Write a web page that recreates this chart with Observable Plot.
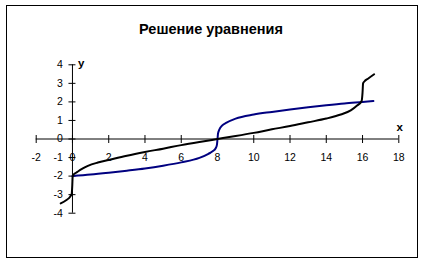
<!DOCTYPE html>
<html>
<head>
<meta charset="utf-8">
<script src="https://cdn.jsdelivr.net/npm/d3@7"></script>
<script src="https://cdn.jsdelivr.net/npm/@observablehq/plot@0.6"></script>
<style>
  html, body { margin: 0; padding: 0; background: #fff; }
</style>
</head>
<body>
<div id="chart"></div>
<script>
const title = "Решение уравнения";
const xTicks = [-2, 0, 2, 4, 6, 8, 10, 12, 14, 16, 18];
const yTicks = [-4, -3, -2, -1, 0, 1, 2, 3, 4];

// Black curve
const blackX = [-0.65, -0.35, -0.12, -0.04, -0.01, 0.01, 0.05, 0.15, 0.3, 0.55, 0.85, 1.4, 2, 3, 4, 5, 6, 7, 8, 9, 10, 11, 12, 13, 14, 14.8, 15.35, 15.7, 15.95, 16.0, 16.03, 16.1, 16.3, 16.64];
const blackY = [-3.47, -3.3, -3.1, -2.95, -2.5, -2.05, -1.93, -1.85, -1.75, -1.6, -1.45, -1.27, -1.13, -0.9, -0.7, -0.52, -0.33, -0.16, 0, 0.16, 0.33, 0.52, 0.7, 0.9, 1.1, 1.32, 1.54, 1.8, 2.05, 2.5, 3.0, 3.1, 3.25, 3.49];

// Blue curve
const blueX = [0, 1, 2, 3, 4, 5, 6, 7, 7.5, 7.75, 7.9, 7.97, 8, 8.03, 8.1, 8.25, 8.5, 9, 10, 11, 12, 13, 14, 15, 16, 16.6];
const blueY = [-2.0, -1.92, -1.82, -1.71, -1.59, -1.44, -1.26, -1.02, -0.8, -0.65, -0.5, -0.3, 0, 0.3, 0.5, 0.72, 0.88, 1.1, 1.32, 1.46, 1.59, 1.71, 1.82, 1.92, 2.0, 2.05];

const black = blackX.map((x, i) => ({x, y: blackY[i]}));
const blue = blueX.map((x, i) => ({x, y: blueY[i]}));

const vTick = {draw(ctx) { ctx.moveTo(0, -4); ctx.lineTo(0, 4); }};
const hTick = {draw(ctx) { ctx.moveTo(-4, 0); ctx.lineTo(3, 0); }};

const font = "Arial, 'Liberation Sans', sans-serif";

const chart = Plot.plot({
  width: 423,
  height: 263,
  margin: 0,
  style: {fontFamily: font, background: "#fff", color: "#000"},
  x: {domain: [-2, 18], range: [35.7, 398.3], axis: null},
  y: {domain: [-4, 4], range: [212.7, 64.3], axis: null},
  marks: [
    Plot.frame({stroke: "#000", strokeWidth: 1, insetLeft: 6, insetTop: 5, insetRight: 6, insetBottom: 6}),
    Plot.ruleY([0], {x1: xTicks[0], x2: xTicks[xTicks.length - 1], stroke: "#000"}),
    Plot.ruleX([0], {y1: yTicks[0], y2: yTicks[yTicks.length - 1], stroke: "#000"}),
    Plot.dot(xTicks, {x: d => d, y: 0, symbol: vTick, stroke: "#000", fill: "none", strokeWidth: 1}),
    Plot.dot(yTicks, {x: 0, y: d => d, symbol: hTick, stroke: "#000", fill: "none", strokeWidth: 1}),
    Plot.text(xTicks, {x: d => d, y: 0, text: d => String(d), dy: 19, fontSize: 10.5, fill: "#000"}),
    Plot.text(yTicks, {x: 0, y: d => d, text: d => String(d), textAnchor: "end", dx: -9.5, fontSize: 10.5, fill: "#000"}),
    Plot.line(blue, {x: "x", y: "y", stroke: "#000080", strokeWidth: 2, curve: "monotone-x"}),
    Plot.line(black, {x: "x", y: "y", stroke: "#000", strokeWidth: 2, curve: "monotone-x"}),
    Plot.text(["x"], {x: 18, y: 0, text: d => d, dy: -12, dx: 1, fontSize: 11.5, fontWeight: "bold", fill: "#000"}),
    Plot.text(["y"], {x: 0, y: 4, text: d => d, textAnchor: "start", dx: 5.5, dy: -1.5, fontSize: 11.5, fontWeight: "bold", fill: "#000"}),
    Plot.text([title], {frameAnchor: "top", text: d => d, dy: 23.5, dx: -1, fontSize: 14.5, fontWeight: "bold", fill: "#000"})
  ]
});
document.getElementById("chart").append(chart);
</script>
</body>
</html>
